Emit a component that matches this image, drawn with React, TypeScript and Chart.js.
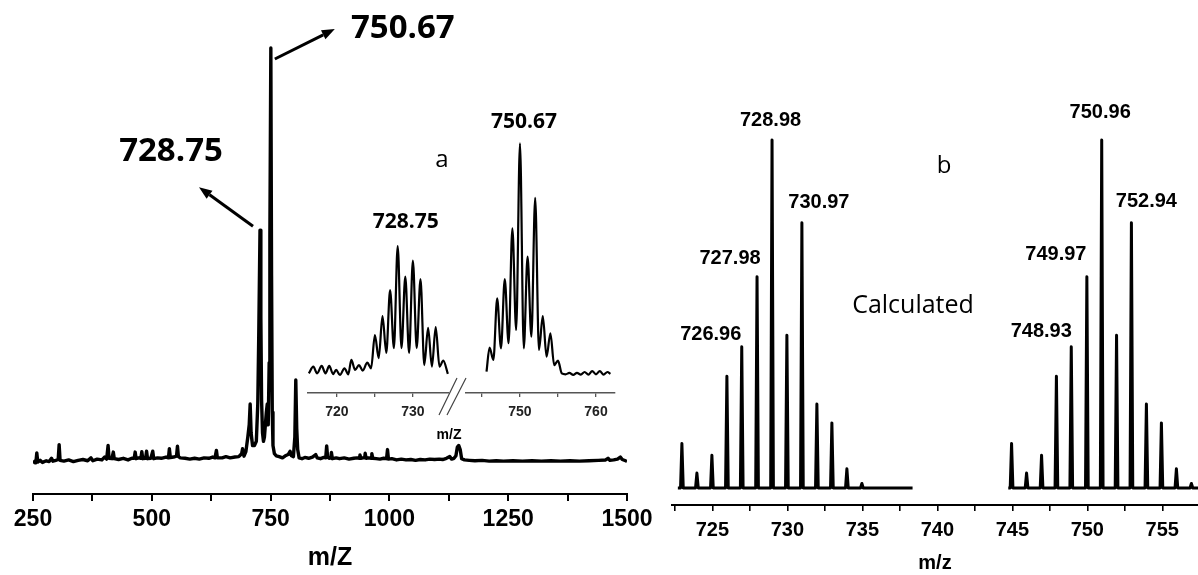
import React, { useEffect, useRef } from "react";
import { Chart, registerables } from "chart.js";

Chart.register(...registerables);

// ---------------- DATA ----------------
// Survey spectrum (panel a): [m/z, relative intensity %]
const surveySpectrum: [number, number][] = [
  [250, -0.3], [254, 0.2], [256, -0.2], [258, 2.2], [260, 0], [265, 0.4], [270, -0.1], [278, 0.3],
  [284, 0.1], [289, 0.9], [292, 0.2], [298, 0.4], [303, 0.6], [305, 4.2], [307, 0.4], [315, 0.2],
  [325, 0.5], [335, 0.1], [345, 0.4], [355, 0.6], [365, 0.3], [372, 1.0], [376, 0.3], [385, 0.7],
  [395, 0.5], [401, 1.2], [405, 0.7], [408, 4.0], [410, 0.9], [416, 0.8], [419, 2.4], [421, 0.8],
  [430, 0.6], [440, 0.9], [450, 0.5], [458, 0.9], [463, 0.9], [465, 2.4], [467, 0.8], [472, 1.0],
  [477, 0.9], [479, 2.5], [481, 0.8], [487, 0.9], [489, 2.6], [491, 0.8], [498, 0.9], [502, 2.6],
  [504, 0.8], [512, 1.0], [520, 0.9], [530, 1.2], [535, 1.0], [537, 3.2], [539, 1.1], [546, 1.2],
  [552, 1.4], [554, 3.8], [556, 1.3], [560, 1.0], [570, 0.9], [580, 0.7], [590, 0.9], [600, 0.7],
  [610, 1.0], [620, 0.9], [628, 1.2], [633, 1.0], [636, 2.8], [638, 1.0], [648, 1.0], [656, 1.3],
  [665, 1.0], [675, 1.2], [683, 1.3], [689, 2.0], [691, 3.2], [694, 1.4], [698, 2.5], [702, 6],
  [705, 9], [707, 14], [709, 7], [712, 4], [716, 4], [720, 5], [723, 14], [725, 30], [727.7, 56],
  [729.5, 35], [731, 15], [733, 7], [735, 5], [737, 6], [739, 9], [741, 12], [743, 14], [745, 9],
  [747, 24], [748.5, 55], [750.5, 100], [752, 45], [753.5, 12], [755, 4], [758, 2], [762, 1.5],
  [768, 1.3], [775, 1.0], [781, 1.5], [787, 1.8], [791, 2.6], [794, 1.5], [798, 1.3], [801, 6],
  [803, 19.8], [805, 8], [807, 3], [810, 1.0], [816, 0.8], [822, 1.1], [830, 0.9], [838, 1.2],
  [845, 1.8], [848, 1.0], [855, 0.8], [862, 1.1], [866, 1.0], [868, 3.9], [870, 1.2], [873, 0.9],
  [877, 1.0], [878, 2.3], [880, 0.8], [888, 1.0], [895, 0.8], [905, 1.0], [915, 0.7], [925, 0.9],
  [932, 1.0], [937, 0.9], [938, 1.7], [940, 0.9], [944, 1.0], [948, 1.0], [949, 2.1], [951, 0.9],
  [956, 1.0], [962, 0.9], [963, 2.0], [965, 0.9], [972, 0.8], [980, 0.7], [988, 0.9], [994, 0.8],
  [996, 3.0], [998, 0.7], [1005, 0.8], [1015, 0.5], [1025, 0.7], [1035, 0.5], [1045, 0.6],
  [1055, 0.4], [1065, 0.6], [1075, 0.5], [1085, 0.7], [1095, 0.6], [1105, 0.7], [1112, 0.6],
  [1120, 0.9], [1127, 1.3], [1131, 0.7], [1136, 0.9], [1140, 1.5], [1143, 3.6], [1146, 4.0],
  [1149, 3.0], [1152, 0.8], [1158, 0.5], [1168, 0.4], [1180, 0.3], [1195, 0.4], [1210, 0.2],
  [1225, 0.3], [1240, 0.2], [1260, 0.3], [1280, 0.2], [1300, 0.3], [1320, 0.2], [1340, 0.3],
  [1360, 0.2], [1380, 0.3], [1400, 0.2], [1420, 0.3], [1440, 0.4], [1455, 0.5], [1460, 0.9],
  [1464, 0.4], [1472, 0.5], [1480, 0.7], [1486, 1.2], [1490, 0.6], [1497, 0.3], [1500, 0.2],
];

// Inset (panel a), left cluster around 728.75
const insetLowTrace: [number, number][] = [
  [716.3, 0.7], [716.9, 3.6], [717.4, 0.7], [718.0, 3.9], [718.5, 0.7], [719.0, 3.9], [719.5, 0.4],
  [719.9, 2.2], [720.4, 0], [721.0, 2.9], [721.5, 0.3], [721.9, 6.5], [722.4, 2.2], [722.9, 4.3],
  [723.4, 1.9], [724.0, 5.3], [724.5, 2.9], [725.0, 17.2], [725.5, 7.3], [726.0, 25.4], [726.5, 9.5],
  [727.0, 36.6], [727.5, 11.6], [728.0, 55.6], [728.5, 11.6], [729.0, 42.4], [729.5, 9.5],
  [730.0, 49.3], [730.5, 11.6], [731.0, 41.4], [731.5, 4.3], [732.0, 20.3], [732.5, 3.6],
  [733.0, 20.7], [733.5, 3.6], [734.0, 6.2], [734.6, 0.5],
];

// Inset (panel a), right cluster around 750.67
const insetHighTrace: [number, number][] = [
  [745.6, 1.5], [746.0, 11.8], [746.5, 6.5], [747.0, 33], [747.5, 11.5], [748.0, 41.4],
  [748.5, 13.7], [749.0, 63.2], [749.5, 19.4], [750.0, 99.9], [750.5, 11.5], [751.0, 51],
  [751.5, 16.5], [752.0, 76.4], [752.5, 10.8], [753.0, 25.4], [753.5, 7.9], [754.0, 18],
  [754.5, 4.3], [755.0, 6.2], [755.5, 0.7], [756.0, 0.3], [756.5, 0.9], [757.0, 0], [757.5, 0.9],
  [758.0, 0.2], [758.5, 1.3], [759.0, 0.2], [759.5, 1.7], [760.0, 0.3], [760.5, 1.7], [761.0, 0.2],
  [761.5, 1.3], [761.9, 0.5],
];

// Calculated isotope pattern (panel b)
const calcMzLow = [722.97, 723.97, 724.97, 725.97, 726.96, 727.98, 728.98, 729.97, 730.97, 731.97, 732.97, 733.97, 734.97];
const calcMzHigh = [744.95, 745.95, 746.95, 747.94, 748.93, 749.97, 750.96, 751.95, 752.94, 753.94, 754.94, 755.94, 756.94];
const calcIntensity = [12.8, 4.3, 9.4, 32.1, 40.6, 60.7, 100, 43.9, 76.2, 24.1, 18.7, 5.5, 1.3];
const calcBaselineLow: [number, number] = [722.7, 738.35];
const calcBaselineHigh: [number, number] = [744.73, 757.4];
const calcLabels = ["726.96", "727.98", "728.98", "730.97", "748.93", "749.97", "750.96", "752.94"];

// Labelled peaks of panel a
const surveyLabels = [
  { text: "750.67", mz: 750.5, intensity: 100 },
  { text: "728.75", mz: 727.7, intensity: 56 },
];
const insetLabels = [
  { text: "728.75", mz: 728.0, intensity: 55.6 },
  { text: "750.67", mz: 750.0, intensity: 99.9 },
];

// ---------------- STYLE ----------------
const AXIS_FONT = "'Liberation Sans', Arial, sans-serif";
const TEXT_FONT = "'Open Sans', sans-serif";

const surveyLabelStyle: Record<string, { from: [number, number]; to: [number, number]; text: [number, number] }> = {
  "750.67": { from: [4, 11], to: [64, -19], text: [132, -19] },
  "728.75": { from: [-7, -4], to: [-61, -43], text: [-89, -79] },
};
const calcLabelOffset: Record<string, [number, number]> = {
  "726.96": [-31, -12],
  "727.98": [-27, -18],
  "728.98": [-1.5, -19.5],
  "730.97": [17, -20],
  "748.93": [-30, -15],
  "749.97": [-31, -22],
  "750.96": [-1.5, -27],
  "752.94": [15, -21],
};
const insetLabelOffset: Record<string, [number, number]> = {
  "728.75": [8, -24],
  "750.67": [4, -21],
};

function drawArrow(ctx: CanvasRenderingContext2D, x1: number, y1: number, x2: number, y2: number) {
  const ang = Math.atan2(y2 - y1, x2 - x1);
  const head = 13;
  const half = 5;
  const bx = x2 - head * Math.cos(ang);
  const by = y2 - head * Math.sin(ang);
  ctx.save();
  ctx.strokeStyle = "#000";
  ctx.fillStyle = "#000";
  ctx.lineWidth = 3;
  ctx.beginPath();
  ctx.moveTo(x1, y1);
  ctx.lineTo(bx, by);
  ctx.stroke();
  ctx.beginPath();
  ctx.moveTo(x2, y2);
  ctx.lineTo(bx + half * Math.sin(ang), by - half * Math.cos(ang));
  ctx.lineTo(bx - half * Math.sin(ang), by + half * Math.cos(ang));
  ctx.closePath();
  ctx.fill();
  ctx.restore();
}

function text(ctx: CanvasRenderingContext2D, s: string, x: number, y: number, font: string) {
  ctx.save();
  ctx.font = font;
  ctx.fillStyle = "#000";
  ctx.textAlign = "center";
  ctx.textBaseline = "middle";
  ctx.fillText(s, x, y);
  ctx.restore();
}

const surveyPlugin = {
  id: "surveyAnnotations",
  afterDraw(chart: any) {
    const { ctx } = chart;
    const xs = chart.scales.x;
    const ys = chart.scales.y;
    surveyLabels.forEach((l) => {
      const px = xs.getPixelForValue(l.mz);
      const py = ys.getPixelForValue(l.intensity);
      const st = surveyLabelStyle[l.text];
      drawArrow(ctx, px + st.from[0], py + st.from[1], px + st.to[0], py + st.to[1]);
      text(ctx, l.text, px + st.text[0], py + st.text[1], `700 33px ${TEXT_FONT}`);
    });
    text(ctx, "a", 442, 160, `400 24px ${TEXT_FONT}`);
    // axis break marks of the inset
    ctx.save();
    ctx.strokeStyle = "#444";
    ctx.lineWidth = 1.2;
    ctx.beginPath();
    ctx.moveTo(439, 415);
    ctx.lineTo(457, 378);
    ctx.moveTo(447, 415);
    ctx.lineTo(466, 378);
    ctx.stroke();
    ctx.restore();
    text(ctx, "m/Z", 449, 435, `700 14px ${AXIS_FONT}`);
  },
};

const insetPlugin = {
  id: "insetAnnotations",
  afterDraw(chart: any) {
    const { ctx } = chart;
    const xs = chart.scales.x;
    const ys = chart.scales.y;
    insetLabels.forEach((l) => {
      if (l.mz < xs.min || l.mz > xs.max) return;
      const off = insetLabelOffset[l.text];
      text(ctx, l.text, xs.getPixelForValue(l.mz) + off[0], ys.getPixelForValue(l.intensity) + off[1], `700 21px ${TEXT_FONT}`);
    });
  },
};

const calcPlugin = {
  id: "calcAnnotations",
  afterDraw(chart: any) {
    const { ctx } = chart;
    const xs = chart.scales.x;
    const ys = chart.scales.y;
    const allMz = [...calcMzLow, ...calcMzHigh];
    const allInt = [...calcIntensity, ...calcIntensity];
    calcLabels.forEach((lab) => {
      const idx = allMz.findIndex((m) => m.toFixed(2) === lab);
      if (idx < 0) return;
      const off = calcLabelOffset[lab];
      text(ctx, lab, xs.getPixelForValue(allMz[idx]) + off[0], ys.getPixelForValue(allInt[idx]) + off[1], `700 20px ${AXIS_FONT}`);
    });
    text(ctx, "b", 944 - 660, 166, `400 24px ${TEXT_FONT}`);
    text(ctx, "Calculated", 913 - 660, 306, `400 25px ${TEXT_FONT}`);
  },
};

function stickTrace(mzs: number[], ints: number[], range: [number, number]) {
  const pts: { x: number; y: number }[] = [{ x: range[0], y: 0 }];
  mzs.forEach((m, i) => {
    pts.push({ x: m - 0.09, y: 0 }, { x: m, y: ints[i] }, { x: m + 0.09, y: 0 });
  });
  pts.push({ x: range[1], y: 0 });
  return pts;
}

const baseOptions = (extra: any) => ({
  animation: false,
  responsive: false,
  events: [],
  plugins: { legend: { display: false }, tooltip: { enabled: false } },
  ...extra,
});

export default function App() {
  const mainRef = useRef<HTMLCanvasElement>(null);
  const insetLowRef = useRef<HTMLCanvasElement>(null);
  const insetHighRef = useRef<HTMLCanvasElement>(null);
  const calcRef = useRef<HTMLCanvasElement>(null);

  useEffect(() => {
    const charts: Chart[] = [];

    charts.push(
      new Chart(mainRef.current!, {
        type: "line",
        data: {
          datasets: [
            {
              data: surveySpectrum.map(([x, y]) => ({ x, y })),
              borderColor: "#000",
              borderWidth: 3.4,
              borderJoinStyle: "round",
              pointRadius: 0,
              tension: 0,
              fill: false,
            },
          ],
        },
        options: baseOptions({
          layout: { padding: { left: 33, right: 33, top: 0, bottom: 0 } },
          scales: {
            x: {
              type: "linear",
              min: 250,
              max: 1500,
              border: { display: true, color: "#000", width: 2 },
              grid: { drawOnChartArea: false, drawTicks: true, tickLength: 7, color: "#000", lineWidth: 2 },
              ticks: {
                stepSize: 125,
                includeBounds: false,
                autoSkip: false,
                maxRotation: 0,
                padding: 5,
                color: "#000",
                font: { family: AXIS_FONT, size: 23, weight: "bold" },
                callback: (v: number) => (v % 250 === 0 ? String(v) : ""),
              },
              title: {
                display: true,
                text: "m/Z",
                color: "#000",
                font: { family: AXIS_FONT, size: 25, weight: "bold" },
                padding: { top: 0, bottom: 2 },
              },
              afterFit: (s: any) => {
                s.height = 81;
              },
            },
            y: { type: "linear", display: false, min: -7.73, max: 111.6 },
          },
        }) as any,
        plugins: [surveyPlugin],
      })
    );

    const insetConfig = (ref: HTMLCanvasElement, trace: [number, number][], min: number, max: number, pad: [number, number]) =>
      new Chart(ref, {
        type: "line",
        data: {
          datasets: [
            {
              data: trace.map(([x, y]) => ({ x, y })),
              borderColor: "#000",
              borderWidth: 2.2,
              pointRadius: 0,
              cubicInterpolationMode: "monotone",
              fill: false,
            },
          ],
        },
        options: baseOptions({
          layout: { padding: { left: pad[0], right: pad[1], top: 0, bottom: 0 } },
          scales: {
            x: {
              type: "linear",
              min,
              max,
              border: { display: true, color: "#555", width: 1.5 },
              grid: { drawOnChartArea: false, drawTicks: true, tickLength: 4, color: "#555", lineWidth: 1.3 },
              ticks: {
                stepSize: 5,
                includeBounds: false,
                autoSkip: false,
                maxRotation: 0,
                padding: 7,
                color: "#222",
                font: { family: AXIS_FONT, size: 14, weight: "bold" },
                callback: (v: number) => (v % 10 === 0 ? String(v) : ""),
              },
              afterFit: (s: any) => {
                s.height = 47;
              },
            },
            y: { type: "linear", display: false, min: -7.76, max: 127.2 },
          },
        }) as any,
        plugins: [insetPlugin],
      });

    charts.push(insetConfig(insetLowRef.current!, insetLowTrace, 716.2, 734.75, [8, 11]));
    charts.push(insetConfig(insetHighRef.current!, insetHighTrace, 742.9, 762.5, [11, 10]));

    charts.push(
      new Chart(calcRef.current!, {
        type: "line",
        data: {
          datasets: [
            {
              data: stickTrace(calcMzLow, calcIntensity, calcBaselineLow),
              borderColor: "#000",
              borderWidth: 3,
              borderJoinStyle: "round",
              pointRadius: 0,
              tension: 0,
              fill: false,
            },
            {
              data: stickTrace(calcMzHigh, calcIntensity, calcBaselineHigh),
              borderColor: "#000",
              borderWidth: 3,
              borderJoinStyle: "round",
              pointRadius: 0,
              tension: 0,
              fill: false,
            },
          ],
        },
        options: baseOptions({
          layout: { padding: { left: 12, right: 0, top: 0, bottom: 0 } },
          scales: {
            x: {
              type: "linear",
              min: 722.31,
              max: 757.38,
              border: { display: true, color: "#000", width: 2 },
              grid: { drawOnChartArea: false, drawTicks: true, tickLength: 6, color: "#000", lineWidth: 1.6 },
              ticks: {
                stepSize: 2.5,
                includeBounds: false,
                autoSkip: false,
                maxRotation: 0,
                padding: 7,
                color: "#000",
                font: { family: AXIS_FONT, size: 20, weight: "bold" },
                callback: (v: number) => (Math.abs(v % 5) < 1e-6 ? String(v) : ""),
              },
              title: {
                display: true,
                text: "m/z",
                color: "#000",
                font: { family: AXIS_FONT, size: 20, weight: "bold" },
                padding: { top: 0, bottom: 0 },
              },
              afterFit: (s: any) => {
                s.height = 70;
              },
            },
            y: { type: "linear", display: false, min: -4.89, max: 140.2 },
          },
        }) as any,
        plugins: [calcPlugin],
      })
    );

    return () => charts.forEach((c) => c.destroy());
  }, []);

  const abs = (left: number, top: number): React.CSSProperties => ({ position: "absolute", left, top });

  return (
    <div style={{ position: "absolute", left: 0, top: 0, width: 1198, height: 575, background: "#fff", overflow: "hidden" }}>
      <canvas ref={mainRef} width={660} height={575} style={abs(0, 0)} />
      <canvas ref={insetLowRef} width={160} height={360} style={abs(300, 80)} />
      <canvas ref={insetHighRef} width={170} height={360} style={abs(455, 80)} />
      <canvas ref={calcRef} width={538} height={575} style={abs(660, 0)} />
    </div>
  );
}
